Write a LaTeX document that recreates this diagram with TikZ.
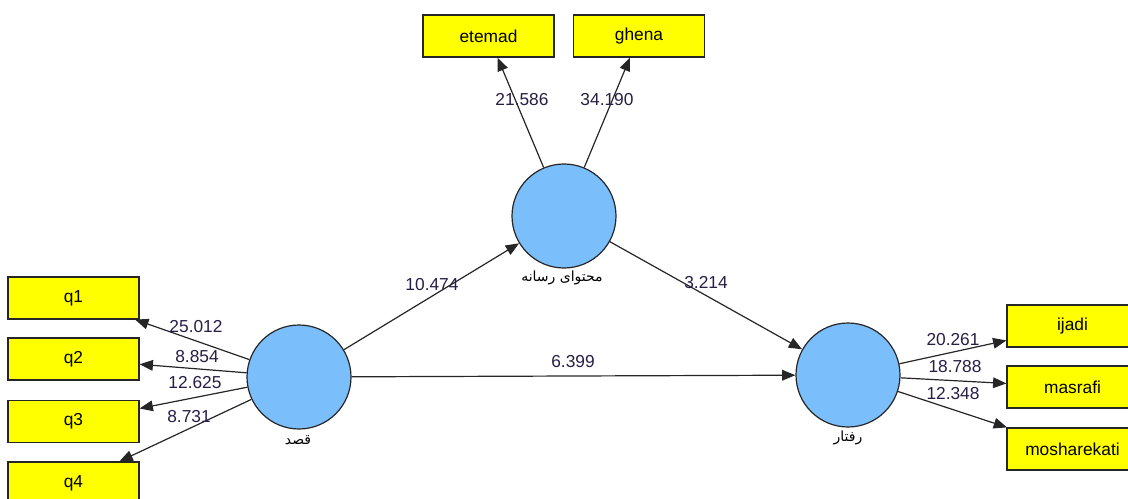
\documentclass[tikz,border=0pt]{standalone}
\usepackage{fontspec}
\setmainfont{Liberation Sans}
\newfontfamily\arabicfont[Script=Arabic]{DejaVu Sans}
\TeXXeTstate=1
\usetikzlibrary{arrows.meta}
\definecolor{circblue}{RGB}{122,190,252}
\definecolor{boxyellow}{RGB}{255,255,0}
\definecolor{numcol}{RGB}{40,30,70}
\tikzset{
  latent/.style={circle, draw=black!85, line width=0.9pt, fill=circblue, minimum size=78pt, inner sep=0pt},
  indic/.style={rectangle, draw=black!85, line width=0.9pt, fill=boxyellow, minimum width=98.25pt, minimum height=31.5pt, inner sep=0pt, font=\fontsize{13pt}{15pt}\selectfont},
  arr/.style={draw=black!85, line width=0.9pt, -{Triangle[length=10pt,width=8pt]}},
  num/.style={text=numcol, inner sep=0pt, font=\fontsize{13pt}{15pt}\selectfont},
  plabel/.style={inner sep=0pt, font=\arabicfont\fontsize{10.5pt}{12pt}\selectfont}
}
\begin{document}
\begin{tikzpicture}[x=0.75pt, y=-0.75pt]
\useasboundingbox (0,0) rectangle (1128,499);
\fill[white] (0,0) rectangle (1128,499);
\clip (0,0) rectangle (1128,499);
% latent variables
\node[latent] (mid) at (564,216) {};
\node[latent] (qasd) at (299,377) {};
\node[latent] (raftar) at (848,375) {};
% labels under circles
\node[plabel] (midlab) at (562,278) {\beginR محتوای رسانه\endR};
\node[plabel] (qasdlab) at (298,440) {\beginR قصد\endR};
\node[plabel] (raftarlab) at (848,438) {\beginR رفتار\endR};
% indicators
\node[indic] (etemad) at (488.5,36) {etemad};
\node[indic] (ghena) at (639,36) {ghena};
\node[indic] (q1) at (73.5,298) {q1};
\node[indic] (q2) at (73.5,359) {q2};
\node[indic] (q3) at (73.5,421.5) {q3};
\node[indic] (q4) at (73.5,483) {q4};
\node[indic] (ijadi) at (1072.5,326) {ijadi};
\node[indic] (masrafi) at (1072.5,387) {masrafi};
\node[indic] (mosharekati) at (1072.5,449) {mosharekati};
% arrows
\draw[arr] (mid) -- (etemad);
\draw[arr] (mid) -- (ghena);
\draw[arr] (qasd) -- (q1);
\draw[arr] (qasd) -- (q2);
\draw[arr] (qasd) -- (q3);
\draw[arr] (qasd) -- (q4);
\draw[arr] (raftar) -- (ijadi);
\draw[arr] (raftar) -- (masrafi);
\draw[arr] (raftar) -- (mosharekati);
\draw[arr] (qasd) -- (mid);
\draw[arr] (mid) -- (raftar);
\draw[arr] (qasd) -- (raftar);
% numbers
\node[num] (n1) at (522,100) {21.586};
\node[num] (n2) at (607,100) {34.190};
\node[num] (n3) at (432,285) {10.474};
\node[num] (n4) at (706,283) {3.214};
\node[num] (n5) at (573,362) {6.399};
\node[num] (n6) at (196,327) {25.012};
\node[num] (n7) at (197,357) {8.854};
\node[num] (n8) at (195,383) {12.625};
\node[num] (n9) at (189,417) {8.731};
\node[num] (n10) at (953,340) {20.261};
\node[num] (n11) at (955,367) {18.788};
\node[num] (n12) at (953,394) {12.348};
\end{tikzpicture}
\end{document}
